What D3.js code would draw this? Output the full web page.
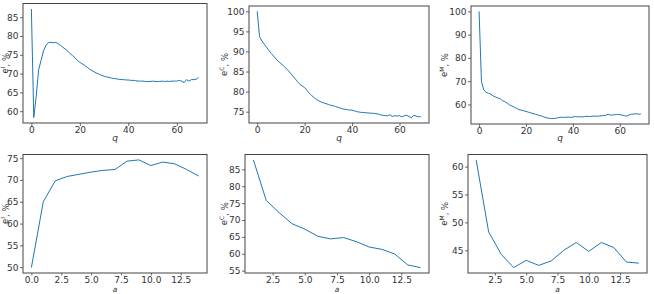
<!DOCTYPE html>
<html><head><meta charset="utf-8">
<script src="https://cdn.jsdelivr.net/npm/d3@7"></script>
<style>
html,body{margin:0;padding:0;background:#fff;}
svg{display:block;font-family:"DejaVu Sans",sans-serif;}
</style></head><body>
<div id="chart"></div>
<script>
// ---------------- data ----------------
const qValues = d3.range(0, 70);
const aValuesI = d3.range(0, 15);
const aValuesCM = d3.range(1, 15);

const eI_q = [87.2,58.3,64.0,71.0,73.5,76.0,77.5,78.2,78.3,78.2,78.3,78.0,77.5,77.0,76.5,76.0,75.3,74.8,74.2,73.5,
  73.0,72.6,72.2,71.7,71.2,70.8,70.4,70.1,69.8,69.5,69.3,69.1,69.0,68.8,68.7,68.6,68.5,68.4,68.4,68.3,
  68.3,68.2,68.2,68.1,68.0,68.0,68.0,67.9,67.9,67.9,68.0,67.9,67.9,67.9,68.0,67.9,68.0,67.9,68.0,68.0,
  68.0,68.2,68.0,67.6,68.4,68.0,68.4,68.4,68.5,69.0];
const eC_q = [100,93.7,92.6,91.8,91.0,90.2,89.5,88.8,88.1,87.5,87.0,86.5,85.9,85.3,84.6,83.9,83.2,82.5,81.8,81.4,
  81.0,80.3,79.6,79.0,78.5,78.0,77.7,77.4,77.2,77.0,76.8,76.6,76.5,76.3,76.1,75.9,75.7,75.6,75.5,75.4,
  75.4,75.2,75.0,74.9,74.8,74.8,74.7,74.7,74.6,74.6,74.5,74.4,74.2,74.1,74.0,74.0,74.2,73.8,74.0,73.9,
  74.0,73.7,74.0,74.1,73.8,73.5,74.1,73.9,73.7,73.8];
const eM_q = [100,70.0,66.2,65.2,64.8,64.4,63.7,63.2,62.8,62.4,61.6,61.2,60.5,59.8,59.3,58.8,58.3,57.8,57.5,57.3,
  57.0,56.7,56.4,56.1,55.8,55.5,55.2,54.9,54.5,54.2,54.0,53.9,54.0,54.1,54.4,54.5,54.4,54.5,54.6,54.4,
  54.6,54.8,54.7,54.7,54.6,54.8,54.9,54.8,54.9,55.0,54.9,55.0,55.1,55.2,55.3,55.8,55.4,55.5,55.6,55.7,
  55.6,55.4,55.2,55.0,55.5,55.8,55.9,56.0,55.8,55.9];
const eI_a = [49.9,65.0,69.8,70.8,71.3,71.8,72.2,72.4,74.3,74.6,73.3,74.1,73.7,72.4,70.9];
const eC_a = [87.8,75.8,72.2,68.9,67.3,65.2,64.4,64.8,63.6,62.0,61.3,59.9,56.7,55.9];
const eM_a = [61.2,48.3,44.3,41.9,43.2,42.3,43.1,45.0,46.4,44.8,46.4,45.5,42.9,42.7];

const ticksQ = [0,20,40,60];
const ticksA0 = [0,2.5,5,7.5,10,12.5];
const ticksA = [2.5,5,7.5,10,12.5];
const ticksY_IQ = [60,65,70,75,80,85];
const ticksY_CQ = [75,80,85,90,95,100];
const ticksY_MQ = [60,70,80,90,100];
const ticksY_IA = [50,55,60,65,70,75];
const ticksY_CA = [55,60,65,70,75,80,85];
const ticksY_MA = [45,50,55,60];

// ---------------- layout ----------------
const W = 654, H = 294;
const svg = d3.select("#chart").append("svg").attr("width", W).attr("height", H);

const panels = [
  {x: qValues, y: eI_q, xt: ticksQ, yt: ticksY_IQ, xfmt: d3.format("d"), sup: "I", xl: "q",
   box: {l: 23, r: 207, t: 3.5, b: 123}, xlY: 140.5, ylX: 8, ts: 3, pad: 1, xlfs: 9},
  {x: qValues, y: eC_q, xt: ticksQ, yt: ticksY_CQ, xfmt: d3.format("d"), sup: "C", xl: "q",
   box: {l: 249, r: 429, t: 6, b: 123}, xlY: 140.5, ylX: 227, ts: 3, pad: 1, xlfs: 9},
  {x: qValues, y: eM_q, xt: ticksQ, yt: ticksY_MQ, xfmt: d3.format("d"), sup: "M", xl: "q",
   box: {l: 471, r: 649, t: 6, b: 124}, xlY: 140.5, ylX: 447, ts: 3, pad: 1, xlfs: 9},
  {x: aValuesI, y: eI_a, xt: ticksA0, yt: ticksY_IA, xfmt: d3.format(".1f"), sup: "I", xl: "a",
   box: {l: 23, r: 207, t: 154.5, b: 273}, xlY: 292.1, ylX: 8, ts: 2.5, pad: 1, xlfs: 7.5},
  {x: aValuesCM, y: eC_a, xt: ticksA, yt: ticksY_CA, xfmt: d3.format(".1f"), sup: "C", xl: "a",
   box: {l: 245, r: 429, t: 154.5, b: 273}, xlY: 292.1, ylX: 227, ts: 2.5, pad: 1, xlfs: 7.5},
  {x: aValuesCM, y: eM_a, xt: ticksA, yt: ticksY_MA, xfmt: d3.format(".1f"), sup: "M", xl: "a",
   box: {l: 468, r: 647, t: 154.5, b: 273}, xlY: 292.1, ylX: 447, ts: 2.5, pad: 1, xlfs: 7.5},
];

function padDomain(vals) {
  const [lo, hi] = d3.extent(vals);
  const m = (hi - lo) * 0.05;
  return [lo - m, hi + m];
}

const textColor = "#333";
const fs = 9;

panels.forEach(p => {
  const b = p.box;
  const xs = d3.scaleLinear().domain(padDomain(p.x)).range([b.l, b.r]);
  const ys = d3.scaleLinear().domain(padDomain(p.y)).range([b.b, b.t]);
  const g = svg.append("g");

  const xAxis = d3.axisBottom(xs).tickValues(p.xt).tickFormat(p.xfmt).tickSize(p.ts).tickPadding(p.pad);
  const yAxis = d3.axisLeft(ys).tickValues(p.yt).tickFormat(d3.format("d")).tickSize(3).tickPadding(1.5);

  const gx = g.append("g").attr("transform", `translate(0,${b.b})`).call(xAxis);
  const gy = g.append("g").attr("transform", `translate(${b.l},0)`).call(yAxis);
  [gx, gy].forEach(a => {
    a.select(".domain").remove();
    a.selectAll(".tick line").attr("stroke", "#444").attr("stroke-width", 0.8);
    a.selectAll(".tick text").attr("fill", textColor).style("font-size", fs + "px")
      .style("font-family", "'DejaVu Sans', sans-serif");
  });

  // line
  const pts = p.x.map((xv, i) => [xv, p.y[i]]);
  g.append("path").datum(pts)
    .attr("fill", "none").attr("stroke", "#1f77b4").attr("stroke-width", 1)
    .attr("d", d3.line().x(d => xs(d[0])).y(d => ys(d[1])));

  // frame
  g.append("rect").attr("x", b.l).attr("y", b.t).attr("width", b.r - b.l).attr("height", b.b - b.t)
    .attr("fill", "none").attr("stroke", "#444").attr("stroke-width", 1);

  // x label
  g.append("text").attr("x", (b.l + b.r) / 2).attr("y", p.xlY).attr("text-anchor", "middle")
    .attr("fill", textColor).style("font-size", p.xlfs + "px").style("font-style", "italic").text(p.xl);

  // y label
  const yl = g.append("text").attr("transform", `translate(${p.ylX},${(b.t + b.b) / 2}) rotate(-90)`)
    .attr("text-anchor", "middle").attr("fill", textColor).style("font-size", "8.5px");
  yl.append("tspan").text("e");
  yl.append("tspan").attr("dy", "-0.45em").style("font-size", "6px").text(p.sup);
  yl.append("tspan").attr("dy", "0.45em").text(", %");
});
</script>
</body></html>
